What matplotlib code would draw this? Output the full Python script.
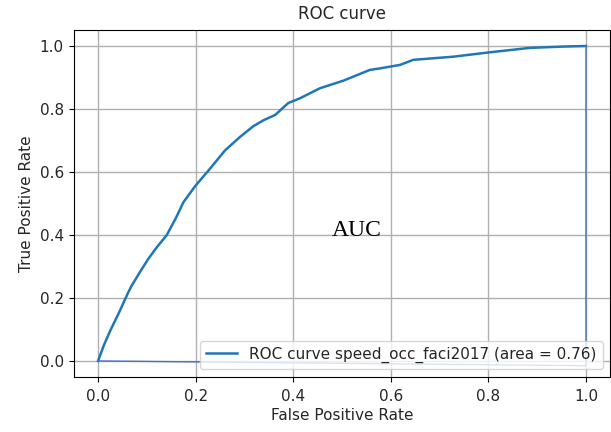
import matplotlib

matplotlib.use("Agg")
import matplotlib.pyplot as plt

# ROC points
fpr = [0.0, 0.012, 0.025, 0.045, 0.062, 0.069, 0.085, 0.103, 0.12, 0.141, 0.16,
       0.175, 0.199, 0.226, 0.26, 0.29, 0.318, 0.34, 0.363, 0.39, 0.414, 0.455,
       0.503, 0.557, 0.578, 0.619, 0.646, 0.728, 0.803, 0.885, 0.95, 1.0]
tpr = [0.0, 0.05, 0.096, 0.16, 0.218, 0.239, 0.28, 0.324, 0.36, 0.40, 0.455,
       0.504, 0.555, 0.604, 0.668, 0.71, 0.745, 0.765, 0.781, 0.819, 0.834, 0.866,
       0.89, 0.924, 0.929, 0.94, 0.956, 0.966, 0.98, 0.994, 0.998, 1.0]

# thin outline: (0,0) -> (1,-0.015) -> (1,1)
outline_x = [0.0, 1.0, 1.0]
outline_y = [0.0, -0.015, 1.0]

roc_auc = 0.76
label = "ROC curve speed_occ_faci2017 (area = %0.2f)" % roc_auc

text_color = "#262626"
plt.rcParams["text.color"] = text_color
plt.rcParams["axes.labelcolor"] = text_color
plt.rcParams["xtick.labelcolor"] = text_color
plt.rcParams["ytick.labelcolor"] = text_color

fig = plt.figure(figsize=(6.11, 4.32), dpi=100)
ax = fig.add_axes([0.1205, 0.128, 0.8785, 0.802])

ax.plot(fpr, tpr, color="#1f77b4", lw=1.8, label=label, zorder=3)
ax.plot(outline_x, outline_y, color="#4472c4", lw=1, zorder=4)

ax.set_xlim(-0.05, 1.05)
ax.set_ylim(-0.05, 1.05)
ax.set_xticks([0.0, 0.2, 0.4, 0.6, 0.8, 1.0])
ax.set_yticks([0.0, 0.2, 0.4, 0.6, 0.8, 1.0])
ax.tick_params(labelsize=11)
ax.tick_params(axis="x", pad=5)
ax.grid(True, color="#b0b0b0", lw=1)
ax.set_xlabel("False Positive Rate", fontsize=11, labelpad=3)
ax.set_ylabel("True Positive Rate", fontsize=11)
ax.set_title("ROC curve", fontsize=12, pad=8)
ax.legend(loc="lower right", fontsize=11)

ax.text(0.531, 0.413, "AUC", family="Liberation Serif", fontsize=17,
        color="black", ha="center", va="center", zorder=5)

fig.savefig("out.png", dpi=100)
